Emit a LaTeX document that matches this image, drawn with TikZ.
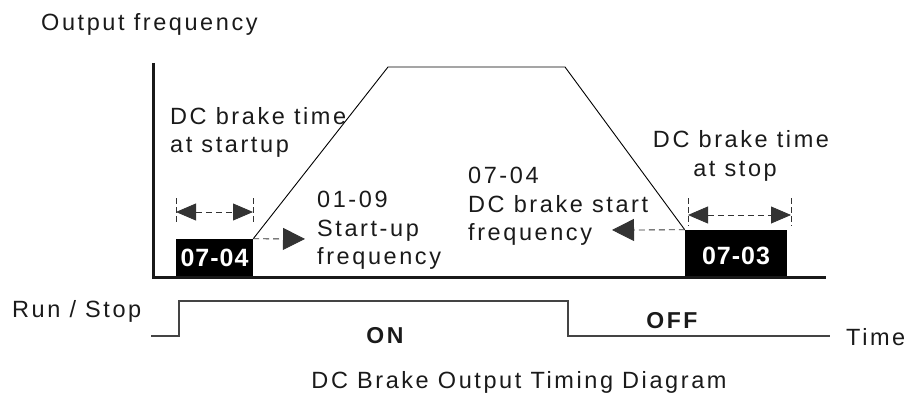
\documentclass[tikz,border=0pt]{standalone}
\usepackage{fontspec}
\setmainfont{Liberation Sans}[LetterSpace=11]
\newfontfamily\blkfont{Liberation Sans}[LetterSpace=4]
\usetikzlibrary{arrows.meta}
\definecolor{ink}{HTML}{1A1A1A}
\definecolor{pulsec}{HTML}{444444}
\begin{document}
\begin{tikzpicture}[x=1pt,y=-1pt,
  lbl/.style={font=\fontsize{23.5}{27}\selectfont, text=ink, inner sep=0pt},
  lblw/.style={lbl, anchor=base west},
  lblc/.style={lbl, anchor=base},
  lblb/.style={lbl, anchor=base, font=\bfseries\fontsize{23}{27}\selectfont},
  blk/.style={fill=black, draw=none, text=white, inner sep=0pt,
    font=\blkfont\bfseries\fontsize{25}{30}\selectfont},
  axisline/.style={line width=3pt, draw=black!90},
  ramp/.style={line width=0.9pt, draw=black},
  pulse/.style={line width=1.4pt, draw=pulsec},
  tickline/.style={line width=0.8pt, draw=black!80, dash pattern=on 6pt off 3pt},
  dimarrow/.style={line width=0.8pt, draw=black!80, dash pattern=on 6pt off 4pt,
    {Triangle[length=20pt,width=17pt]}-{Triangle[length=20pt,width=17pt]}},
  dasharrow/.style={line width=0.8pt, draw=black!80, dash pattern=on 6pt off 4pt,
    -{Triangle[length=22pt,width=22pt]}},
]
\useasboundingbox (0,0) rectangle (905,393);

% blocks
\node[blk, minimum width=77pt, minimum height=38pt] (blkA) at (214.5,258) {07-04};
\node[blk, minimum width=102pt, minimum height=47pt, text height=23pt] (blkB) at (736,253.5) {07-03};

% axes
\coordinate (axtop) at (153,63);
\coordinate (axorg) at (153,277.5);
\coordinate (axend) at (826,277.5);
\draw[axisline] (axtop) -- (axorg) -- (axend);

% frequency profile
\coordinate (peakL) at (388,67);
\coordinate (peakR) at (565,67);
\draw[ramp] (blkA.north east) -- (peakL) -- (peakR) -- (blkB.north west);

% dashed frequency arrows
\coordinate (arrAend) at (305,239);
\coordinate (arrBend) at (612,230);
\draw[dasharrow] (blkA.north east) -- (arrAend);
\draw[dasharrow] (blkB.north west) -- (arrBend);

% dimension marks at startup
\coordinate (tA1t) at (176,198); \coordinate (tA1b) at (176,222);
\coordinate (tA2t) at (253,198); \coordinate (tA2b) at (253,222);
\coordinate (dA1) at (176,212); \coordinate (dA2) at (253,212);
\draw[tickline] (tA1t) -- (tA1b);
\draw[tickline] (tA2t) -- (tA2b);
\draw[dimarrow] (dA1) -- (dA2);

% dimension marks at stop
\coordinate (tB1t) at (688,198); \coordinate (tB1b) at (688,226);
\coordinate (tB2t) at (791,198); \coordinate (tB2b) at (791,226);
\coordinate (dB1) at (688,215); \coordinate (dB2) at (791,215);
\draw[tickline] (tB1t) -- (tB1b);
\draw[tickline] (tB2t) -- (tB2b);
\draw[dimarrow] (dB1) -- (dB2);

% run / stop pulse
\coordinate (p0) at (151,336);
\coordinate (p1) at (179,336);
\coordinate (p2) at (179,301);
\coordinate (p3) at (568,301);
\coordinate (p4) at (568,336);
\coordinate (p5) at (830,336);
\draw[pulse] (p0) -- (p1) -- (p2) -- (p3) -- (p4) -- (p5);

% texts
\node[lblw] (tOut) at (41,31) {Output frequency};
\node[lblw] (tBS1) at (170,125) {DC brake time};
\node[lblw] (tBS2) at (170,153) {at startup};
\node[lblw] (tSU1) at (317,207) {01-09};
\node[lblw] (tSU2) at (317,236) {Start-up};
\node[lblw] (tSU3) at (317,264) {frequency};
\node[lblw] (tBF1) at (468,183) {07-04};
\node[lblw] (tBF2) at (468,212) {DC brake start};
\node[lblw] (tBF3) at (468,240) {frequency};
\node[lblc] (tBT1) at (741,147) {DC brake time};
\node[lblc] (tBT2) at (735,176) {at stop};
\node[lblw] (tRun) at (12,317) {Run / Stop};
\node[lblb] (tOn) at (385,343) {ON};
\node[lblb] (tOff) at (672,328) {OFF};
\node[lblw] (tTime) at (846,345) {Time};
\node[lblc] (tTitle) at (519,388.5) {DC Brake Output Timing Diagram};
\end{tikzpicture}
\end{document}
